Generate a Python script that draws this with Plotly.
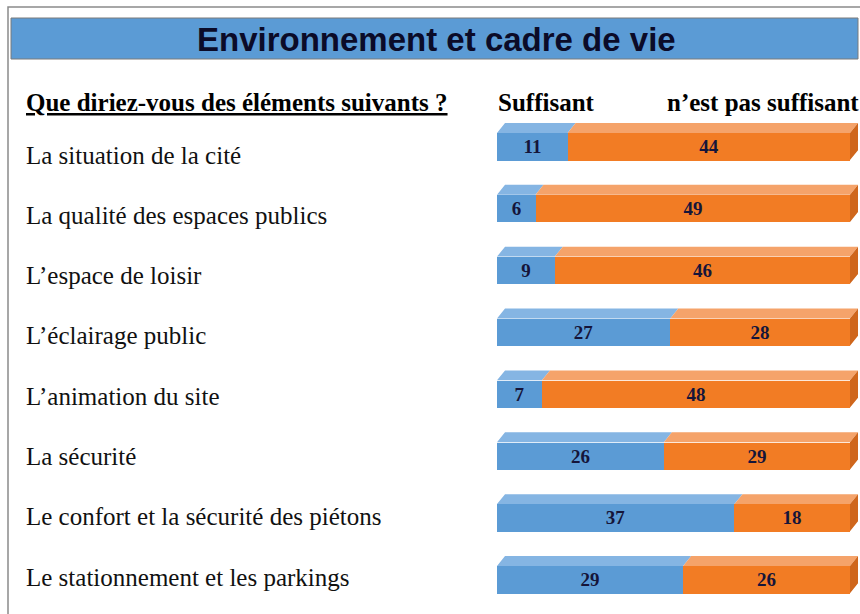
import plotly.graph_objects as go

# Survey results: "Environnement et cadre de vie"
items = [
    "La situation de la cité",
    "La qualité des espaces publics",
    "L’espace de loisir",
    "L’éclairage public",
    "L’animation du site",
    "La sécurité",
    "Le confort et la sécurité des piétons",
    "Le stationnement et les parkings",
]
suffisant = [11, 6, 9, 27, 7, 26, 37, 29]
pas_suffisant = [44, 49, 46, 28, 48, 29, 18, 26]

W, H = 860, 614

BLUE, BLUE_TOP = "#5b9bd5", "#85b5e3"
ORANGE, ORANGE_TOP, ORANGE_SIDE = "#f27c24", "#f5a36a", "#cf661c"
TEXT_DARK = "#15153a"

# geometry of the pseudo-3D bars (data units)
bar_w = 0.44     # thickness of the front face
dx, dy = 1.25, 0.16  # depth offset of top / side faces

rows = list(range(len(items)))
totals = [a + b for a, b in zip(suffisant, pas_suffisant)]
x_max = max(totals) + 1.5


def px_x(p):
    return p / W


def px_y(p):
    return 1 - p / H


fig = go.Figure()

# front faces
value_font = dict(family="Liberation Serif", size=19, color=TEXT_DARK, weight="bold")
fig.add_trace(go.Bar(
    y=rows, x=suffisant, orientation="h", width=bar_w,
    marker=dict(color=BLUE, line=dict(width=0)),
    text=[str(v) for v in suffisant], textposition="inside",
    insidetextanchor="middle", textfont=value_font,
    hoverinfo="skip", name="Suffisant",
))
fig.add_trace(go.Bar(
    y=rows, x=pas_suffisant, orientation="h", width=bar_w,
    marker=dict(color=ORANGE, line=dict(width=0)),
    text=[str(v) for v in pas_suffisant], textposition="inside",
    insidetextanchor="middle", textfont=value_font,
    hoverinfo="skip", name="n’est pas suffisant",
))


def top_face(x0, x1, r):
    t = r - bar_w / 2
    return [x0, x1, x1 + dx, x0 + dx, x0, None], [t, t, t - dy, t - dy, t, None]


# top faces of each segment, plus the right-hand side face
bx, by, ox, oy, sx, sy = [], [], [], [], [], []
for r, a, b in zip(rows, suffisant, pas_suffisant):
    xs, ys = top_face(0, a, r)
    bx += xs; by += ys
    xs, ys = top_face(a, a + b, r)
    ox += xs; oy += ys
    t, btm, e = r - bar_w / 2, r + bar_w / 2, a + b
    sx += [e, e + dx, e + dx, e, e, None]
    sy += [t, t - dy, btm - dy, btm, t, None]

for xs, ys, col in [(bx, by, BLUE_TOP), (ox, oy, ORANGE_TOP), (sx, sy, ORANGE_SIDE)]:
    fig.add_trace(go.Scatter(
        x=xs, y=ys, mode="lines", fill="toself", fillcolor=col,
        line=dict(width=0, color=col), hoverinfo="skip", showlegend=False,
    ))

# outer frame and title banner
fig.add_shape(type="rect", xref="paper", yref="paper",
              x0=px_x(8), x1=1.02, y0=-0.02, y1=px_y(7),
              line=dict(color="#8a8a8a", width=1.5), fillcolor="rgba(0,0,0,0)", layer="below")
fig.add_shape(type="rect", xref="paper", yref="paper",
              x0=px_x(11), x1=px_x(858), y0=px_y(59), y1=px_y(18),
              line=dict(color="#7a7a7a", width=1), fillcolor=BLUE, layer="below")

head_font = dict(family="Liberation Serif", size=25, color="#000000")
annotations = [
    dict(text="<b>Environnement et cadre de vie</b>", x=px_x(437), y=px_y(39),
         xanchor="center", yanchor="middle",
         font=dict(family="Liberation Sans", size=33, color="#0b0b28")),
    dict(text="<b><u>Que diriez-vous des éléments suivants ?</u></b>", x=px_x(24), y=px_y(103),
         xanchor="left", yanchor="middle", font=head_font),
    dict(text="<b>Suffisant</b>", x=px_x(496), y=px_y(103),
         xanchor="left", yanchor="middle", font=head_font),
    dict(text="<b>n’est pas suffisant</b>", x=px_x(861), y=px_y(103),
         xanchor="right", yanchor="middle", font=head_font),
]
for i, label in enumerate(items):
    annotations.append(dict(
        text=label, x=px_x(24), y=px_y(155 + 60.3 * i),
        xanchor="left", yanchor="middle",
        font=dict(family="Liberation Serif", size=25, color="#111111"),
    ))
for a in annotations:
    a.update(xref="paper", yref="paper", showarrow=False)

# pixel placement of the bar area: value 0 at x=497, 55 at x=850
x0_px, unit_px = 497, (850 - 497) / max(totals)
top_px, row_px = 146.5, 61.86
fig.update_layout(
    width=W, height=H, margin=dict(l=0, r=0, t=0, b=0),
    paper_bgcolor="white", plot_bgcolor="white",
    barmode="stack", bargap=0, showlegend=False,
    annotations=annotations,
    xaxis=dict(range=[0, x_max], domain=[px_x(x0_px), px_x(x0_px + x_max * unit_px)],
               visible=False, fixedrange=True),
    yaxis=dict(range=[len(items) - 0.5, -0.5],
               domain=[px_y(top_px + row_px * (len(items) - 0.5)), px_y(top_px - row_px * 0.5)],
               visible=False, fixedrange=True),
)

fig.write_html("out.html")
